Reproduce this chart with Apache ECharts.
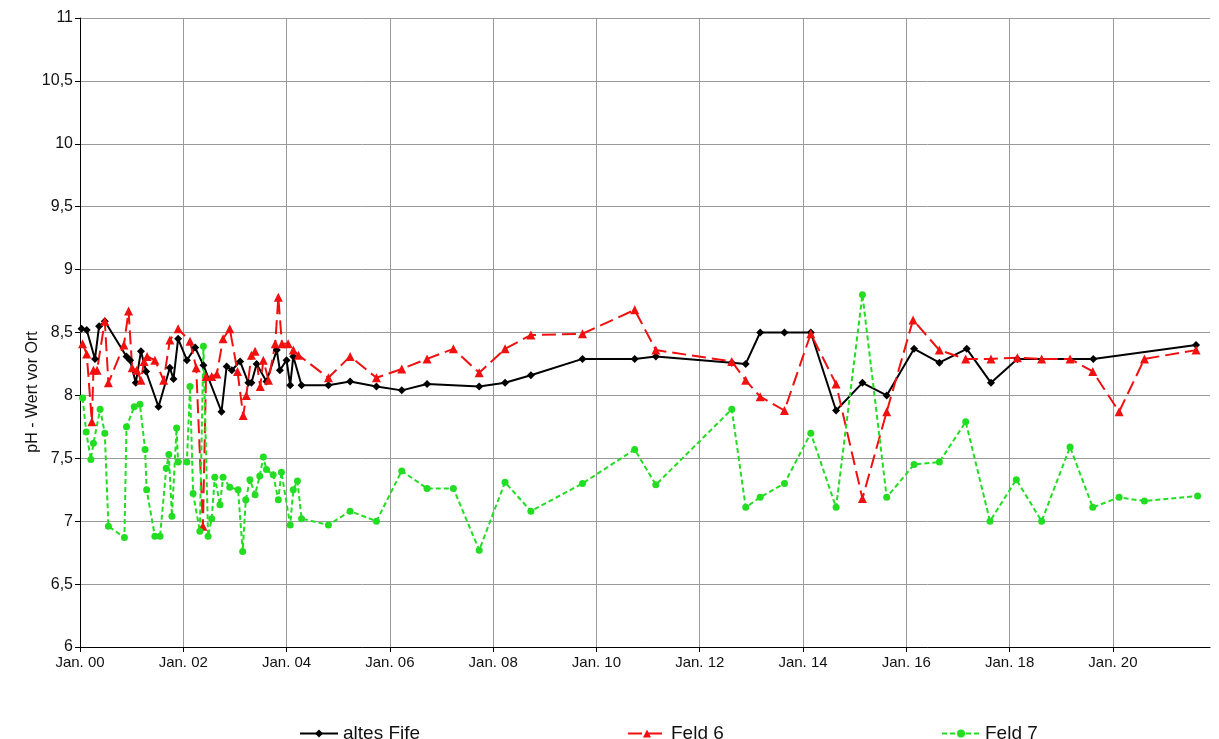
<!DOCTYPE html>
<html>
<head>
<meta charset="utf-8">
<script src="https://cdn.jsdelivr.net/npm/echarts@6/dist/echarts.min.js"></script>
<style>
html,body{margin:0;padding:0;background:#fff;}
#chart{width:1219px;height:739px;}
</style>
</head>
<body>
<div id="chart"></div>
<script>
// time in years since Jan. 2000
const seriesNames = ['altes Fife', 'Feld 6', 'Feld 7'];
const yTitle = 'pH - Wert vor Ort';

const fifeT = [0.03,0.13,0.29,0.37,0.48,0.90,0.97,1.08,1.18,1.28,1.52,1.74,1.81,1.90,2.07,2.23,2.39,2.74,2.84,2.94,3.10,3.26,3.32,3.42,3.61,3.81,3.87,4.00,4.07,4.13,4.29,4.81,5.23,5.74,6.23,6.72,7.73,8.23,8.73,9.73,10.74,11.15,12.62,12.89,13.17,13.64,14.15,14.64,15.15,15.62,16.15,16.64,17.17,17.64,18.15,19.62,21.61];
const fifeV = [8.53,8.52,8.29,8.55,8.59,8.31,8.28,8.10,8.35,8.19,7.91,8.22,8.13,8.45,8.28,8.38,8.24,7.87,8.23,8.20,8.27,8.10,8.10,8.25,8.11,8.36,8.20,8.28,8.08,8.31,8.08,8.08,8.11,8.07,8.04,8.09,8.07,8.10,8.16,8.29,8.29,8.31,8.26,8.25,8.50,8.50,8.50,7.88,8.10,8.00,8.37,8.26,8.37,8.10,8.29,8.29,8.40];

const feld6T = [0.05,0.13,0.23,0.26,0.33,0.48,0.55,0.85,0.94,1.01,1.10,1.18,1.24,1.30,1.45,1.62,1.74,1.90,2.13,2.25,2.38,2.44,2.55,2.65,2.77,2.90,3.05,3.16,3.22,3.32,3.39,3.49,3.55,3.65,3.78,3.84,3.91,4.03,4.13,4.23,4.81,5.23,5.74,6.23,6.72,7.23,7.73,8.23,8.73,9.73,10.74,11.15,12.62,12.89,13.17,13.64,14.15,14.64,15.15,15.62,16.13,16.64,17.15,17.64,18.15,18.62,19.17,19.61,20.12,20.61,21.61];
const feld6V = [8.41,8.33,7.79,8.20,8.20,8.59,8.10,8.40,8.67,8.22,8.20,8.12,8.27,8.31,8.28,8.12,8.44,8.53,8.43,8.22,6.96,8.15,8.15,8.17,8.45,8.53,8.19,7.84,8.00,8.32,8.35,8.07,8.28,8.12,8.41,8.78,8.41,8.41,8.36,8.32,8.14,8.31,8.14,8.21,8.29,8.37,8.18,8.37,8.48,8.49,8.68,8.36,8.27,8.12,7.99,7.88,8.49,8.09,7.18,7.87,8.60,8.36,8.29,8.29,8.30,8.29,8.29,8.19,7.87,8.29,8.36];

const feld7T = [0.05,0.12,0.21,0.26,0.39,0.48,0.55,0.86,0.90,1.05,1.16,1.26,1.29,1.45,1.55,1.67,1.72,1.78,1.87,1.90,2.07,2.13,2.19,2.32,2.39,2.48,2.55,2.61,2.71,2.77,2.90,3.06,3.15,3.21,3.29,3.39,3.48,3.55,3.61,3.74,3.84,3.90,4.07,4.13,4.21,4.29,4.81,5.23,5.74,6.23,6.72,7.23,7.73,8.23,8.73,9.73,10.74,11.15,12.62,12.89,13.17,13.64,14.15,14.64,15.15,15.62,16.15,16.64,17.15,17.62,18.13,18.62,19.17,19.61,20.12,20.61,21.64];
const feld7V = [7.98,7.71,7.49,7.62,7.89,7.70,6.96,6.87,7.75,7.91,7.93,7.57,7.25,6.88,6.88,7.42,7.53,7.04,7.74,7.47,7.47,8.07,7.22,6.92,8.39,6.88,7.02,7.35,7.13,7.35,7.27,7.25,6.76,7.17,7.33,7.21,7.36,7.51,7.41,7.37,7.17,7.39,6.97,7.25,7.32,7.02,6.97,7.08,7.00,7.40,7.26,7.26,6.77,7.31,7.08,7.30,7.57,7.29,7.89,7.11,7.19,7.30,7.70,7.11,8.80,7.19,7.45,7.47,7.79,7.00,7.33,7.00,7.59,7.11,7.19,7.16,7.20];

const pairs = (t, v) => t.map((x, i) => [x, v[i]]);

const chart = echarts.init(document.getElementById('chart'));
const font = 'Liberation Sans, Arial, sans-serif';
const grid = '#9a9a9a';
// 11 gridlines (Jan. 00 ... Jan. 20) plus none at the axis end
const xGridColors = Array(11).fill(grid).concat(['rgba(0,0,0,0)']);

const legendBase = { itemWidth: 38, itemHeight: 10, top: 719, textStyle: { fontFamily: font, fontSize: 19, color: '#111' } };

chart.setOption({
  animation: false,
  backgroundColor: '#fff',
  grid: { left: 80, right: 9, top: 18, bottom: 92, containLabel: false },
  xAxis: {
    type: 'value', min: 0, max: 21.88, interval: 2,
    axisLine: { show: true, lineStyle: { color: '#000', width: 1 } },
    axisTick: { show: true, length: 5, lineStyle: { color: '#000' } },
    splitLine: { show: true, lineStyle: { color: xGridColors, width: 1 } },
    axisLabel: {
      color: '#111', fontFamily: font, fontSize: 15, margin: 8,
      showMaxLabel: false,
      formatter: v => {
        const r = Math.round(v);
        if (Math.abs(v - r) > 1e-6 || r % 2 !== 0) return '';
        return 'Jan. ' + String(r).padStart(2, '0');
      }
    }
  },
  yAxis: {
    type: 'value', min: 6, max: 11, interval: 0.5,
    axisLine: { show: true, lineStyle: { color: '#000', width: 1 } },
    axisTick: { show: true, length: 5, lineStyle: { color: '#000' } },
    splitLine: { show: true, lineStyle: { color: grid, width: 1 } },
    axisLabel: {
      color: '#111', fontFamily: font, fontSize: 16, margin: 7,
      formatter: v => String(v).replace('.', ',')
    }
  },
  graphic: [{
    type: 'text', x: 33, y: 392, rotation: Math.PI / 2,
    style: { text: yTitle, fontFamily: font, fontSize: 16, fill: '#111', align: 'center', verticalAlign: 'middle' }
  }],
  legend: [
    Object.assign({ data: [seriesNames[0]], left: 294 }, legendBase),
    Object.assign({ data: [seriesNames[1]], left: 622 }, legendBase),
    Object.assign({ data: [seriesNames[2]], left: 936 }, legendBase)
  ],
  series: [
    {
      name: seriesNames[0], type: 'line', data: pairs(fifeT, fifeV),
      symbol: 'diamond', symbolSize: 8, showAllSymbol: true,
      lineStyle: { color: '#000', width: 2 }, itemStyle: { color: '#000' }
    },
    {
      name: seriesNames[1], type: 'line', data: pairs(feld6T, feld6V),
      symbol: 'triangle', symbolSize: 9, showAllSymbol: true,
      lineStyle: { color: '#f01010', width: 2, type: [14, 6] }, itemStyle: { color: '#f01010' }
    },
    {
      name: seriesNames[2], type: 'line', data: pairs(feld7T, feld7V),
      symbol: 'circle', symbolSize: 7, showAllSymbol: true,
      lineStyle: { color: '#22dd22', width: 2, type: [5, 3] }, itemStyle: { color: '#22dd22' }
    }
  ]
});
</script>
</body>
</html>
